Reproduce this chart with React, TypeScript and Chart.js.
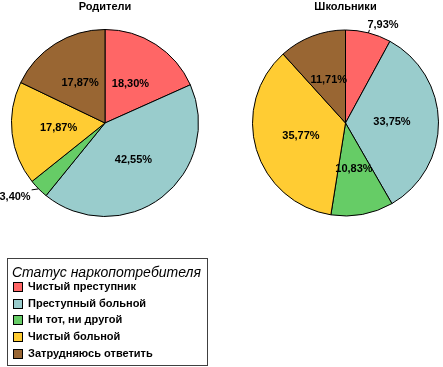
import React, { useEffect, useRef } from "react";
import { Chart, registerables } from "chart.js";

Chart.register(...registerables);

const categories = [
  "Чистый преступник",
  "Преступный больной",
  "Ни тот, ни другой",
  "Чистый больной",
  "Затрудняюсь ответить",
];
const parentsValues = [18.3, 42.55, 3.4, 17.87, 17.87];
const pupilsValues = [7.93, 33.75, 10.83, 35.77, 11.71];
const parentsTitle = "Родители";
const pupilsTitle = "Школьники";
const legendTitle = "Статус наркопотребителя";
const sliceColors = ["#FF6666", "#99CCCC", "#66CC66", "#FFCC33", "#996633"];

const FONT = "'Liberation Sans', Arial, sans-serif";

const fmt = (v: number) => v.toFixed(2).replace(".", ",") + "%";

type OutsideCfg = {
  index: number;
  line: [number, number];
  text: [number, number];
  align: CanvasTextAlign;
};

function makeLabelPlugin(title: string, outside: OutsideCfg | null, withLegend: boolean) {
  return {
    id: "customLabels",
    afterDatasetsDraw(chart: any) {
      const ctx: CanvasRenderingContext2D = chart.ctx;
      const meta = chart.getDatasetMeta(0);
      const data = chart.data.datasets[0].data as number[];
      ctx.save();
      ctx.fillStyle = "#000";
      ctx.font = `bold 11px ${FONT}`;
      ctx.textBaseline = "middle";
      meta.data.forEach((arc: any, i: number) => {
        const p = arc.getProps(["x", "y", "startAngle", "endAngle", "outerRadius"], true);
        const mid = (p.startAngle + p.endAngle) / 2;
        const label = fmt(data[i]);
        if (outside && outside.index === i) {
          const ex = p.x + Math.cos(mid) * p.outerRadius;
          const ey = p.y + Math.sin(mid) * p.outerRadius;
          const lx = ex + outside.line[0];
          const ly = ey + outside.line[1];
          ctx.strokeStyle = "#000";
          ctx.lineWidth = 1;
          ctx.beginPath();
          ctx.moveTo(ex, ey);
          ctx.lineTo(lx, ly);
          ctx.stroke();
          ctx.textAlign = outside.align;
          ctx.fillText(label, ex + outside.text[0], ey + outside.text[1]);
        } else {
          const c = arc.tooltipPosition(true);
          ctx.textAlign = "center";
          ctx.fillText(label, c.x, c.y);
        }
      });
      // title
      const area = chart.chartArea;
      ctx.font = `bold 11px ${FONT}`;
      ctx.textAlign = "center";
      ctx.fillText(title, (area.left + area.right) / 2, 7);

      if (withLegend) {
        const bx = 7.5, by = 258.5, bw = 200, bh = 107;
        ctx.strokeStyle = "#404040";
        ctx.lineWidth = 1;
        ctx.strokeRect(bx, by, bw, bh);
        ctx.textAlign = "left";
        ctx.font = `italic 14px ${FONT}`;
        ctx.fillText(legendTitle, 12, 273);
        ctx.font = `bold 11px ${FONT}`;
        const labels = chart.data.labels as string[];
        const colors = chart.data.datasets[0].backgroundColor as string[];
        labels.forEach((lab, i) => {
          const y = 282 + i * 16.7;
          ctx.fillStyle = colors[i];
          ctx.fillRect(13, Math.round(y), 10, 10);
          ctx.strokeStyle = "#000";
          ctx.strokeRect(13.5, Math.round(y) + 0.5, 9, 9);
          ctx.fillStyle = "#000";
          ctx.fillText(lab, 28, Math.round(y) + 5);
        });
      }
      ctx.restore();
    },
  };
}

function PieCanvas(props: {
  values: number[];
  title: string;
  padding: { left: number; right: number; top: number; bottom: number };
  outside: OutsideCfg | null;
  legend: boolean;
  width: number;
  height: number;
  left: number;
}) {
  const ref = useRef<HTMLCanvasElement | null>(null);
  useEffect(() => {
    if (!ref.current) return;
    const chart = new Chart(ref.current, {
      type: "pie",
      data: {
        labels: categories,
        datasets: [
          {
            data: props.values,
            backgroundColor: sliceColors,
            borderColor: "#000",
            borderWidth: 1,
            hoverOffset: 0,
          },
        ],
      },
      options: {
        responsive: false,
        animation: false,
        devicePixelRatio: 1,
        layout: { padding: props.padding },
        plugins: {
          legend: { display: false },
          tooltip: { enabled: false },
          title: { display: false },
        },
      },
      plugins: [makeLabelPlugin(props.title, props.outside, props.legend)],
    } as any);
    return () => chart.destroy();
  }, []);
  return (
    <canvas
      ref={ref}
      width={props.width}
      height={props.height}
      style={{
        position: "absolute",
        left: props.left,
        top: 0,
        width: props.width,
        height: props.height,
        display: "block",
      }}
    />
  );
}

export default function App() {
  return (
    <div
      style={{
        position: "absolute",
        left: 0,
        top: 0,
        width: 443,
        height: 367,
        background: "#fff",
        overflow: "hidden",
      }}
    >
      <PieCanvas
        values={parentsValues}
        title={parentsTitle}
        padding={{ left: 11, right: 23, top: 29, bottom: 150 }}
        outside={{ index: 2, line: [-7, 1], text: [-8, 8], align: "right" }}
        legend={true}
        width={222}
        height={367}
        left={0}
      />
      <PieCanvas
        values={pupilsValues}
        title={pupilsTitle}
        padding={{ left: 30, right: 4, top: 29, bottom: 150 }}
        outside={{ index: 0, line: [1, -3], text: [-1, -8], align: "left" }}
        legend={false}
        width={221}
        height={367}
        left={222}
      />
    </div>
  );
}
